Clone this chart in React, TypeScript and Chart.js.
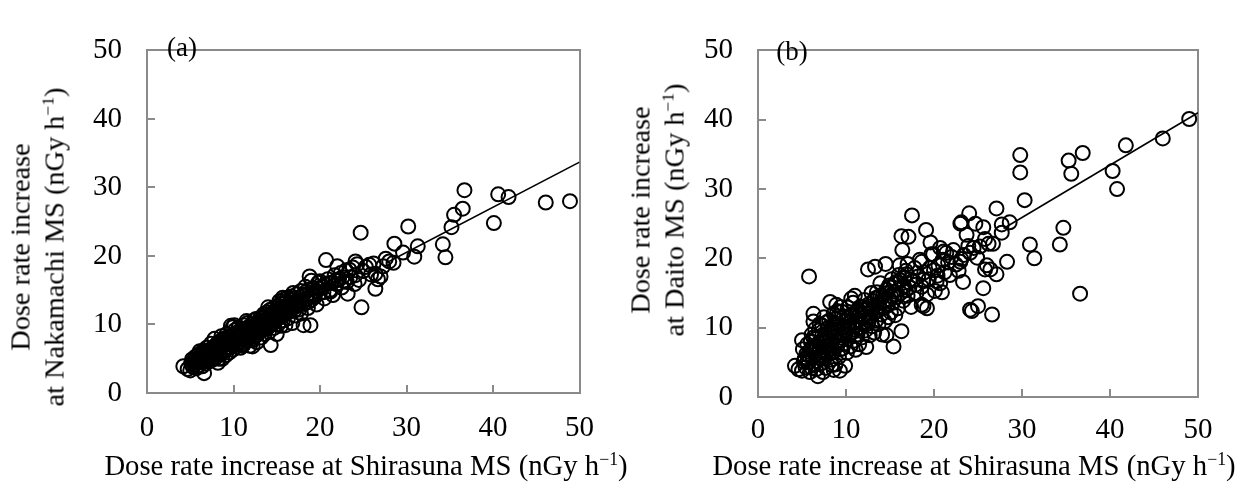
import React, { useEffect, useRef } from "react";
import { Chart, registerables } from "chart.js";

Chart.register(...registerables);

const SERIF = "'Liberation Serif', 'Times New Roman', Times, serif";
const GRAY = "#8a8a8a";

const axisTicks = [0, 10, 20, 30, 40, 50];

const xTitleText = "Dose rate increase at Shirasuna MS";
const unitBase = "(nGy h";
const unitExp = "\u22121";
const yTitleA = ["Dose rate increase", "at Nakamachi MS"];
const yTitleB = ["Dose rate increase", "at Daito MS"];
const panelTags = ["(a)", "(b)"];

// Panel (a): Shirasuna (x) vs Nakamachi (y)
const pointsA: [number, number][] = [
  [4.2, 3.9], [4.7, 3.5], [5.0, 3.3], [5.1, 4.3], [5.3, 3.8], [5.4, 4.8], [5.5, 4.1], [5.6, 5.3], [5.7, 3.6], [5.8, 4.6],
  [5.9, 5.6], [6.0, 4.0], [6.0, 5.0], [6.1, 6.1], [6.2, 4.5], [6.3, 5.4], [6.4, 3.9], [6.5, 6.2], [6.6, 2.9], [6.6, 4.9],
  [6.7, 5.7], [6.8, 4.3], [6.9, 6.6], [7.0, 5.2], [7.1, 4.6], [7.2, 6.0], [7.3, 5.4], [7.4, 7.2], [7.5, 4.8], [7.6, 6.4],
  [7.7, 5.7], [7.8, 7.9], [7.9, 5.1], [8.0, 6.8], [8.1, 6.1], [8.2, 4.4], [8.3, 7.4], [8.4, 5.6], [8.5, 6.5], [8.6, 8.3],
  [8.7, 5.0], [8.8, 7.0], [8.9, 6.2], [9.0, 7.8], [9.1, 5.5], [9.2, 8.6], [9.3, 6.7], [9.4, 7.3], [9.5, 5.9], [9.6, 8.1],
  [9.7, 9.8], [9.8, 7.0], [9.9, 6.3], [10.0, 8.5], [10.1, 7.5], [10.2, 9.2], [10.3, 6.8], [10.4, 8.0], [10.5, 7.2], [10.6, 9.6],
  [10.7, 8.4], [10.8, 6.6], [10.9, 7.8], [11.0, 9.0], [11.1, 8.2], [11.2, 7.1], [11.3, 9.9], [11.4, 8.7], [11.5, 7.6], [11.6, 10.2],
  [11.7, 8.0], [11.8, 9.3], [11.9, 6.9], [12.0, 8.6], [12.1, 10.0], [12.2, 7.7], [12.3, 9.4], [12.4, 10.6], [12.5, 8.3], [12.6, 9.0],
  [12.7, 7.4], [12.8, 10.3], [12.9, 8.8], [13.0, 9.7], [13.1, 11.0], [13.2, 8.1], [13.3, 10.4], [13.4, 9.2], [13.5, 11.5], [13.6, 8.6],
  [13.7, 10.0], [13.8, 9.4], [13.9, 11.8], [14.0, 10.7], [14.1, 8.9], [14.2, 12.1], [14.3, 7.0], [14.3, 9.9], [14.4, 11.2], [14.5, 10.3],
  [14.6, 12.4], [14.7, 9.5], [14.8, 11.6], [14.9, 10.8], [15.0, 8.6], [15.1, 12.7], [15.2, 10.1], [15.3, 11.3], [15.4, 13.0], [15.5, 9.8],
  [15.6, 12.0], [15.7, 10.6], [15.8, 13.6], [15.9, 11.4], [16.0, 9.9], [16.1, 12.5], [16.2, 13.9], [16.3, 10.9], [16.4, 11.8], [16.5, 13.2],
  [16.6, 12.3], [16.8, 10.2], [16.9, 13.8], [17.0, 12.0], [17.2, 11.3], [17.3, 14.4], [17.5, 12.8], [17.6, 13.5], [17.8, 11.6], [18.0, 14.2],
  [18.1, 9.9], [18.2, 13.0], [18.4, 14.8], [18.6, 12.4], [18.8, 17.0], [18.9, 9.9], [19.0, 13.6], [19.2, 15.3], [19.4, 14.0], [19.6, 12.9],
  [19.8, 16.1], [20.0, 14.6], [20.0, 16.3], [20.3, 15.5], [20.5, 13.8], [20.7, 19.4], [20.9, 16.6], [21.1, 15.0], [21.3, 16.1], [21.5, 14.3],
  [21.7, 17.2], [21.9, 15.9], [22.2, 16.6], [22.5, 15.4], [22.8, 16.3], [23.0, 17.9], [23.2, 14.5], [23.5, 16.9], [23.8, 18.3], [24.0, 15.9],
  [24.1, 19.2], [24.1, 17.2], [24.3, 18.8], [24.5, 16.5], [24.7, 23.4], [24.8, 12.5], [25.0, 17.8], [25.3, 18.4], [25.7, 18.7], [25.9, 17.3],
  [26.2, 18.9], [26.4, 17.4], [26.4, 15.2], [26.7, 16.6], [27.0, 17.0], [27.3, 18.5], [27.6, 19.6], [28.0, 19.2], [28.5, 19.0], [28.6, 21.8],
  [29.6, 20.5], [30.2, 24.3], [30.9, 19.9], [31.3, 21.4], [34.2, 21.7], [34.5, 19.8], [35.2, 24.2], [35.5, 26.0], [36.5, 26.9], [36.7, 29.6],
  [40.1, 24.8], [40.6, 29.0], [41.8, 28.6], [46.1, 27.8], [48.9, 28.0],
  [5.2, 4.9], [5.8, 3.9], [6.3, 4.8], [6.8, 5.9], [7.2, 5.0], [7.6, 5.3], [8.0, 5.7], [8.4, 6.9], [8.8, 6.0], [9.2, 7.1],
  [9.6, 6.6], [10.0, 7.3], [10.4, 7.9], [10.8, 8.7], [11.2, 8.5], [11.6, 9.1], [12.0, 9.7], [12.4, 8.9], [12.8, 9.5], [13.2, 9.9],
  [13.6, 10.5], [14.0, 9.6], [14.4, 10.0], [14.8, 10.4], [15.2, 11.0], [15.6, 11.2], [16.0, 11.6], [16.4, 12.7], [16.8, 12.9], [17.2, 13.1],
  [17.6, 12.2], [18.0, 13.3], [18.4, 13.7], [18.8, 14.1], [19.2, 14.5], [19.6, 14.9], [20.4, 14.7], [21.0, 16.0], [9.9, 9.6], [10.1, 9.9],
  [11.5, 10.5], [12.6, 10.8], [14.0, 12.5], [15.3, 13.4], [16.7, 14.1], [12.2, 6.8], [11.0, 6.9], [15.7, 13.9], [16.9, 14.6], [17.8, 14.9],
  [18.3, 15.5], [19.0, 16.4], [22.0, 18.5], [22.4, 17.5], [23.4, 18.0],
  [5.5, 4.5], [6.1, 5.3], [6.5, 5.2], [6.9, 5.4], [7.3, 6.3], [7.7, 6.6], [8.1, 7.2], [8.5, 7.6], [8.9, 7.9], [9.3, 7.7],
  [9.7, 8.3], [10.1, 8.6], [10.5, 8.9], [10.9, 9.3], [11.3, 9.2], [11.7, 9.6], [12.1, 9.0], [12.5, 9.9], [12.9, 10.1], [13.3, 10.9],
  [13.7, 11.2], [14.1, 11.4], [14.5, 11.7], [14.9, 12.0], [15.3, 12.3], [15.7, 12.6], [16.1, 13.3], [16.5, 11.9], [16.9, 12.4], [17.3, 13.0],
  [17.7, 14.0], [18.1, 14.4], [7.0, 6.2], [7.9, 6.9], [8.7, 6.8], [9.5, 7.6], [10.3, 7.6], [11.1, 8.9], [11.9, 8.2], [12.7, 8.5],
  [13.5, 9.6], [14.3, 10.6], [15.1, 11.6], [15.9, 12.2], [16.7, 13.5], [6.4, 5.8], [7.5, 5.9], [8.3, 5.0], [9.1, 6.5], [9.9, 7.1],
  [10.7, 7.5], [11.5, 8.1], [12.3, 8.0], [13.1, 9.4], [13.9, 10.2], [14.7, 10.9], [15.5, 11.1], [16.3, 12.0], [17.1, 12.6], [17.9, 13.1],
  [18.7, 13.3], [19.3, 14.3], [19.9, 15.2], [20.6, 15.9], [21.2, 14.8], [21.8, 16.4], [22.6, 16.9], [23.1, 16.2],
];
const fitA: [number, number][] = [[27.7, 19.0], [50, 33.7]];

// Panel (b): Shirasuna (x) vs Daito (y)
const pointsB: [number, number][] = [
  [4.2, 4.5], [4.6, 4.0], [5.0, 3.8], [5.0, 8.2], [5.1, 6.9], [5.3, 5.5], [5.4, 4.3], [5.5, 6.2], [5.6, 7.6], [5.8, 17.4],
  [5.8, 5.0], [5.9, 3.6], [6.0, 6.8], [6.1, 9.0], [6.2, 5.7], [6.3, 12.0], [6.3, 10.9], [6.4, 4.6], [6.5, 7.4], [6.6, 8.4],
  [6.7, 5.2], [6.8, 3.0], [6.8, 6.3], [6.9, 9.6], [7.0, 7.1], [7.1, 4.8], [7.2, 8.0], [7.3, 10.3], [7.4, 5.9], [7.5, 6.6],
  [7.6, 8.8], [7.7, 4.2], [7.8, 7.5], [7.9, 9.9], [8.0, 6.1], [8.1, 11.0], [8.2, 13.7], [8.2, 8.3], [8.3, 5.4], [8.4, 7.0],
  [8.5, 9.3], [8.6, 6.5], [8.7, 10.6], [8.8, 4.7], [8.9, 13.3], [8.9, 8.0], [9.0, 7.4], [9.1, 11.6], [9.2, 5.8], [9.3, 3.8],
  [9.3, 9.0], [9.4, 6.9], [9.5, 12.3], [9.6, 8.5], [9.7, 10.1], [9.8, 7.7], [9.9, 4.5], [9.9, 11.0], [10.0, 9.5], [10.1, 6.4],
  [10.2, 12.9], [10.3, 8.8], [10.4, 10.7], [10.5, 7.3], [10.6, 11.8], [10.7, 9.4], [10.8, 13.6], [10.9, 8.1], [11.0, 14.6], [11.0, 10.3],
  [11.1, 6.8], [11.2, 12.2], [11.3, 9.0], [11.4, 11.1], [11.5, 7.6], [11.6, 13.0], [11.7, 10.0], [11.8, 8.6], [11.9, 12.6], [12.0, 11.4],
  [12.1, 14.0], [12.2, 9.6], [12.3, 7.2], [12.4, 12.0], [12.5, 18.4], [12.5, 10.6], [12.6, 13.4], [12.7, 8.9], [12.8, 11.7], [12.9, 15.0],
  [13.0, 10.2], [13.1, 12.8], [13.2, 9.3], [13.3, 18.8], [13.3, 14.2], [13.4, 11.0], [13.5, 15.1], [13.6, 12.4], [13.7, 10.5], [13.8, 13.6],
  [13.9, 16.4], [14.0, 11.9], [14.1, 9.0], [14.2, 14.6], [14.3, 12.9], [14.4, 10.9], [14.5, 19.2], [14.6, 15.5], [14.6, 8.9], [14.7, 13.2],
  [14.8, 11.5], [14.9, 16.1], [15.0, 14.0], [15.1, 12.2], [15.2, 17.0], [15.3, 13.6], [15.4, 7.3], [15.5, 15.2], [15.6, 11.8], [15.7, 16.6],
  [15.8, 14.4], [15.9, 12.8], [16.0, 17.6], [16.1, 19.0], [16.2, 15.0], [16.3, 23.2], [16.3, 9.5], [16.4, 21.2], [16.5, 13.9], [16.6, 16.0],
  [16.8, 18.2], [16.9, 17.7], [17.0, 19.2], [17.0, 14.6], [17.1, 23.1], [17.2, 15.8], [17.4, 13.0], [17.5, 26.2], [17.6, 16.8], [17.8, 18.6],
  [18.0, 15.0], [18.2, 17.4], [18.4, 19.8], [18.6, 19.5], [18.6, 15.9], [18.6, 13.3], [18.8, 13.1], [18.9, 18.0], [19.1, 24.1], [19.2, 14.8],
  [19.2, 12.8], [19.4, 17.0], [19.6, 22.3], [19.7, 20.6], [19.9, 20.6], [20.0, 18.3], [20.1, 15.3], [20.3, 16.7], [20.5, 19.0], [20.7, 21.5],
  [20.7, 16.4], [20.9, 15.1], [21.1, 21.0], [21.2, 18.0], [21.4, 20.8], [21.6, 19.4], [21.8, 17.6], [22.0, 20.2], [22.2, 21.2], [22.5, 19.1],
  [22.8, 18.2], [23.0, 25.0], [23.0, 19.5], [23.1, 25.2], [23.1, 19.9], [23.3, 16.6], [23.4, 20.5], [23.7, 23.4], [23.9, 21.8], [24.0, 26.5],
  [24.1, 20.8], [24.1, 12.6], [24.3, 12.4], [24.5, 21.5], [24.7, 25.0], [24.9, 20.1], [25.0, 13.1], [25.2, 21.7], [25.6, 24.5], [25.6, 15.7],
  [25.8, 22.8], [25.8, 18.4], [26.0, 19.0], [26.2, 22.1], [26.4, 18.4], [26.6, 11.9], [26.7, 22.1], [27.1, 27.2], [27.1, 17.7], [27.7, 24.9],
  [27.7, 23.7], [28.3, 19.5], [28.6, 25.2], [29.8, 34.9], [29.8, 32.4], [30.3, 28.4], [30.9, 22.0], [31.4, 20.0], [34.3, 22.0], [34.7, 24.4],
  [35.3, 34.1], [35.6, 32.2], [36.6, 14.9], [36.9, 35.2], [40.3, 32.6], [40.8, 30.0], [41.8, 36.3], [46.0, 37.3], [49.0, 40.1],
  [6.0, 8.0], [6.5, 9.8], [7.0, 10.5], [7.5, 11.5], [7.2, 6.0], [7.9, 8.6], [8.4, 9.7], [8.6, 12.0], [9.0, 10.4], [9.4, 13.0],
  [9.8, 11.6], [6.9, 7.8], [7.6, 7.9], [8.1, 6.8], [5.6, 5.0], [6.2, 7.2], [10.2, 10.0], [10.8, 12.0], [11.4, 12.6], [12.0, 13.0],
  [11.2, 10.8], [12.6, 11.0], [13.0, 12.6], [13.6, 14.4], [14.4, 14.0], [15.0, 15.8], [15.6, 14.8], [16.2, 16.8], [16.8, 15.4], [10.6, 14.2],
  [9.0, 12.4], [7.4, 3.6], [6.6, 4.0], [8.6, 3.9], [8.4, 4.6],
  [5.2, 5.1], [5.7, 6.0], [6.1, 4.2], [6.4, 6.9], [6.7, 7.0], [7.0, 5.6], [7.3, 8.9], [7.7, 6.2], [8.0, 9.2], [8.3, 7.7],
  [8.7, 8.7], [9.1, 8.2], [9.5, 9.9], [9.9, 8.8], [10.3, 11.4], [10.7, 10.5], [11.1, 9.7], [11.5, 11.8], [11.9, 10.5], [12.3, 12.6],
  [12.7, 11.5], [13.1, 13.8], [13.5, 12.9], [13.9, 14.6], [14.3, 13.8], [14.7, 15.0], [15.1, 14.6], [15.5, 16.3], [16.6, 17.2], [17.3, 17.0],
  [17.9, 16.2], [18.8, 16.9], [19.5, 18.6], [20.4, 17.5], [21.0, 19.8], [7.8, 10.8], [8.8, 11.2], [9.6, 7.0], [10.4, 9.1], [11.3, 12.4],
  [12.2, 10.8], [6.3, 8.6], [5.9, 6.5],
];
const fitB: [number, number][] = [[27.9, 24.3], [50, 41.0]];

type Box = {
  canvasLeft: number;
  canvasWidth: number;
  areaLeft: number;
  areaTop: number;
  areaRight: number;
  areaBottom: number;
  xPad: number;
  yPad: number;
};

const CANVAS_H = 490;

const boxA: Box = { canvasLeft: 0, canvasWidth: 620, areaLeft: 147, areaTop: 16, areaRight: 588, areaBottom: 393, xPad: 26, yPad: 33 };
const boxB: Box = { canvasLeft: 620, canvasWidth: 630, areaLeft: 138, areaTop: 20, areaRight: 578, areaBottom: 397, xPad: 24, yPad: 33 };

function ScatterPanel({ points, fit, box }: { points: [number, number][]; fit: [number, number][]; box: Box }) {
  const ref = useRef<HTMLCanvasElement | null>(null);
  useEffect(() => {
    const canvas = ref.current;
    if (!canvas) return;
    const tickFont = { family: SERIF, size: 29 };
    const setTicks = (s: any) => {
      s.ticks = axisTicks.map((v) => ({ value: v }));
    };
    const chart = new Chart(canvas, {
      type: "scatter",
      data: {
        datasets: [
          {
            label: "obs",
            data: points.map(([x, y]) => ({ x, y })),
            pointStyle: "circle",
            pointRadius: 7,
            pointHoverRadius: 7,
            pointBorderWidth: 2,
            pointBorderColor: "#000",
            pointBackgroundColor: "rgba(0,0,0,0)",
            showLine: false,
            clip: false,
            order: 0,
          } as any,
          {
            label: "fit",
            data: fit.map(([x, y]) => ({ x, y })),
            showLine: true,
            borderColor: "#000",
            borderWidth: 1.6,
            pointRadius: 0,
            pointHoverRadius: 0,
            fill: false,
            order: 1,
          } as any,
        ],
      },
      options: {
        animation: false,
        responsive: false,
        maintainAspectRatio: false,
        events: [],
        layout: {
          padding: { left: 0, top: box.areaTop, right: box.canvasWidth - box.areaRight, bottom: 0 },
        },
        plugins: {
          legend: { display: false },
          tooltip: { enabled: false },
          title: { display: false },
        },
        scales: {
          x: {
            type: "linear",
            position: "bottom",
            min: 0,
            max: 50,
            afterBuildTicks: setTicks,
            afterFit: (s: any) => {
              s.height = CANVAS_H - box.areaBottom;
            },
            grid: { drawOnChartArea: false, drawTicks: true, tickLength: -8, color: GRAY, lineWidth: 2 },
            border: { display: true, color: GRAY, width: 2 },
            ticks: { font: tickFont, color: "#000", padding: box.xPad, maxRotation: 0, autoSkip: false },
          },
          y: {
            type: "linear",
            position: "left",
            min: 0,
            max: 50,
            afterBuildTicks: setTicks,
            afterFit: (s: any) => {
              s.width = box.areaLeft;
            },
            grid: { drawOnChartArea: false, drawTicks: true, tickLength: -8, color: GRAY, lineWidth: 2 },
            border: { display: true, color: GRAY, width: 2 },
            ticks: { font: tickFont, color: "#000", padding: box.yPad, autoSkip: false },
          },
          xTop: {
            type: "linear",
            axis: "x",
            position: "top",
            min: 0,
            max: 50,
            ticks: { display: false },
            grid: { drawOnChartArea: false, drawTicks: false, color: GRAY, lineWidth: 2 },
            border: { display: true, color: GRAY, width: 2 },
            afterFit: (s: any) => {
              s.height = 0;
            },
          },
          yRight: {
            type: "linear",
            axis: "y",
            position: "right",
            min: 0,
            max: 50,
            ticks: { display: false },
            grid: { drawOnChartArea: false, drawTicks: false, color: GRAY, lineWidth: 2 },
            border: { display: true, color: GRAY, width: 2 },
            afterFit: (s: any) => {
              s.width = 0;
            },
          },
        } as any,
      },
    });
    return () => chart.destroy();
  }, [points, fit, box]);
  return (
    <canvas
      ref={ref}
      width={box.canvasWidth}
      height={CANVAS_H}
      style={{ position: "absolute", left: box.canvasLeft, top: 0, display: "block" }}
    />
  );
}

const textBase: React.CSSProperties = {
  position: "absolute",
  fontFamily: SERIF,
  color: "#000",
  whiteSpace: "nowrap",
};

function Unit() {
  return (
    <>
      {unitBase}
      <span style={{ fontSize: "0.62em", position: "relative", top: "-0.55em" }}>{unitExp}</span>)
    </>
  );
}

function XTitle({ cx, cy }: { cx: number; cy: number }) {
  return (
    <div style={{ ...textBase, left: cx, top: cy, fontSize: 28.7, lineHeight: "29px", transform: "translate(-50%, -50%)" }}>
      {xTitleText} <Unit />
    </div>
  );
}

function YTitle({ cx, cy, lines }: { cx: number; cy: number; lines: string[] }) {
  return (
    <div
      style={{
        ...textBase,
        left: cx,
        top: cy,
        fontSize: 28.3,
        lineHeight: "34px",
        textAlign: "center",
        transform: "translate(-50%, -50%) rotate(-90deg)",
      }}
    >
      {lines[0]}
      <br />
      {lines[1]} <Unit />
    </div>
  );
}

function Tag({ cx, cy, text }: { cx: number; cy: number; text: string }) {
  return (
    <div style={{ ...textBase, left: cx, top: cy, fontSize: 27, lineHeight: "27px", transform: "translate(-50%, -50%)" }}>
      {text}
    </div>
  );
}

export default function App() {
  return (
    <div style={{ position: "absolute", left: 0, top: 0, width: 1250, height: 490, background: "#fff", overflow: "hidden" }}>
      <ScatterPanel points={pointsA} fit={fitA} box={boxA} />
      <ScatterPanel points={pointsB} fit={fitB} box={boxB} />
      <Tag cx={182} cy={47} text={panelTags[0]} />
      <Tag cx={792} cy={51} text={panelTags[1]} />
      <YTitle cx={39} cy={247} lines={yTitleA} />
      <YTitle cx={659} cy={210} lines={yTitleB} />
      <XTitle cx={366} cy={467} />
      <XTitle cx={974} cy={467} />
    </div>
  );
}
